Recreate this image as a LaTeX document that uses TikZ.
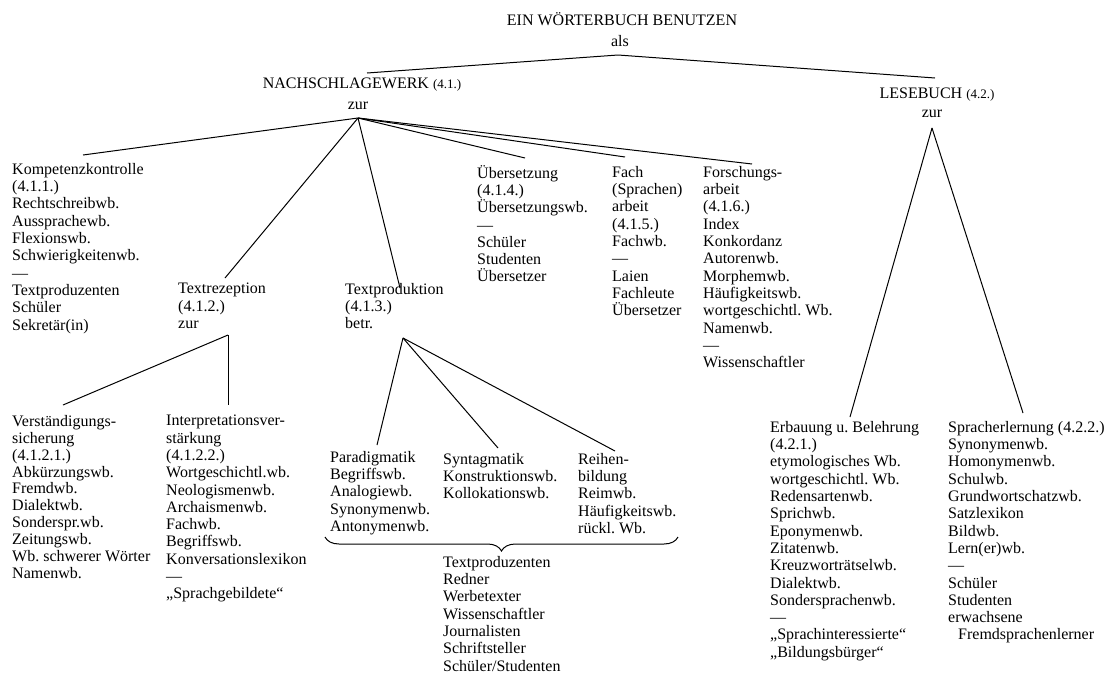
\documentclass[tikz,border=0pt]{standalone}
\usepackage{fontspec}
\setmainfont{Liberation Serif}
\usetikzlibrary{decorations.pathreplacing}
\frenchspacing

\newcommand{\numsmall}[1]{{\fontsize{13}{14}\selectfont #1}}

\begin{document}
\begin{tikzpicture}[x=1pt,y=-1pt,
    lst/.style={anchor=north west, align=left, inner sep=0pt, font=\fontsize{16}{17.3}\selectfont,
      execute at begin node=\strut},
    hdr/.style={anchor=base, inner sep=0pt, font=\fontsize{16}{17.3}\selectfont},
    edge/.style={line width=1pt}]
    \useasboundingbox (0,0) rectangle (1107,675);
    % headings
    \node[hdr] (title) at (622,25) {EIN WÖRTERBUCH BENUTZEN};
    \node[hdr] (als) at (620,46) {als};
    \node[hdr] (nachschlag) at (362,88) {NACHSCHLAGEWERK \numsmall{(4.1.)}};
    \node[hdr] (nachschlag-zur) at (358,109) {zur};
    \node[hdr] (lesebuch) at (937,98) {LESEBUCH \numsmall{(4.2.)}};
    \node[hdr] (lesebuch-zur) at (932,117) {zur};
    % Nachschlagewerk
    \node[lst] (komp) at (12,163) {Kompetenzkontrolle\\(4.1.1.)\\Rechtschreibwb.\\Aussprachewb.\\Flexionswb.\\Schwierigkeitenwb.\\---\\Textproduzenten\\Schüler\\Sekretär(in)};
    \node[lst] (rez) at (178,283) {Textrezeption\\(4.1.2.)\\zur};
    \node[lst] (prod) at (345,283) {Textproduktion\\(4.1.3.)\\betr.};
    \node[lst] (uebs) at (477,165) {Übersetzung\\(4.1.4.)\\Übersetzungswb.\\---\\Schüler\\Studenten\\Übersetzer};
    \node[lst] (fach) at (612,166) {Fach\\(Sprachen)\\arbeit\\(4.1.5.)\\Fachwb.\\---\\Laien\\Fachleute\\Übersetzer};
    \node[lst] (forsch) at (703,166) {Forschungs-\\arbeit\\(4.1.6.)\\Index\\Konkordanz\\Autorenwb.\\Morphemwb.\\Häufigkeitswb.\\wortgeschichtl. Wb.\\Namenwb.\\---\\Wissenschaftler};
    % Textrezeption
    \node[lst, font=\fontsize{16}{16.9}\selectfont] (vers) at (12,415) {Verständigungs-\\sicherung\\(4.1.2.1.)\\Abkürzungswb.\\Fremdwb.\\Dialektwb.\\Sonderspr.wb.\\Zeitungswb.\\Wb. schwerer Wörter\\Namenwb.};
    \node[lst] (interp) at (166,415) {Interpretationsver-\\stärkung\\(4.1.2.2.)\\Wortgeschichtl.wb.\\Neologismenwb.\\Archaismenwb.\\Fachwb.\\Begriffswb.\\Konversationslexikon\\---\\„Sprachgebildete“};
    % Textproduktion
    \node[lst] (para) at (330,451) {Paradigmatik\\Begriffswb.\\Analogiewb.\\Synonymenwb.\\Antonymenwb.};
    \node[lst] (synt) at (443,453) {Syntagmatik\\Konstruktionswb.\\Kollokationswb.};
    \node[lst] (reihe) at (578,453) {Reihen-\\bildung\\Reimwb.\\Häufigkeitswb.\\rückl. Wb.};
    \node[lst] (tprod) at (443,556) {Textproduzenten\\Redner\\Werbetexter\\Wissenschaftler\\Journalisten\\Schriftsteller\\Schüler/Studenten};
    % Lesebuch
    \node[lst] (erb) at (770,421) {Erbauung u. Belehrung\\(4.2.1.)\\etymologisches Wb.\\wortgeschichtl. Wb.\\Redensartenwb.\\Sprichwb.\\Eponymenwb.\\Zitatenwb.\\Kreuzworträtselwb.\\Dialektwb.\\Sondersprachenwb.\\---\\„Sprachinteressierte“\\„Bildungsbürger“};
    \node[lst] (spr) at (948,421) {Spracherlernung (4.2.2.)\\Synonymenwb.\\Homonymenwb.\\Schulwb.\\Grundwortschatzwb.\\Satzlexikon\\Bildwb.\\Lern(er)wb.\\---\\Schüler\\Studenten\\erwachsene\\\hspace*{10pt}Fremdsprachenlerner};
    % forks and line ends
    \coordinate (als-fork) at (618,55);
    \coordinate (nachschlag-top) at (367,73);
    \coordinate (lesebuch-top) at (935,78);
    \coordinate (nachschlag-fork) at (358,118);
    \coordinate (komp-top) at (83,155);
    \coordinate (rez-top) at (225,278);
    \coordinate (prod-top) at (400,288);
    \coordinate (uebs-top) at (525,158);
    \coordinate (fach-top) at (625,157);
    \coordinate (forsch-top) at (752,164);
    \coordinate (rez-fork) at (228,335);
    \coordinate (vers-top) at (63,405);
    \coordinate (interp-top) at (228,405);
    \coordinate (prod-fork) at (403,338);
    \coordinate (para-top) at (377,445);
    \coordinate (synt-top) at (498,448);
    \coordinate (reihe-top) at (615,451);
    \coordinate (lesebuch-fork) at (932,128);
    \coordinate (erb-top) at (850,417);
    \coordinate (spr-top) at (1023,413);
    \coordinate (brace-l) at (325,537);
    \coordinate (brace-r) at (678,537);
    % connectors
    \draw[edge] (nachschlag-top) -- (als-fork) -- (lesebuch-top);
    \foreach \n in {komp,rez,prod,uebs,fach,forsch}
      \draw[edge] (nachschlag-fork) -- (\n-top);
    \foreach \n in {vers,interp}
      \draw[edge] (rez-fork) -- (\n-top);
    \foreach \n in {para,synt,reihe}
      \draw[edge] (prod-fork) -- (\n-top);
    \foreach \n in {erb,spr}
      \draw[edge] (lesebuch-fork) -- (\n-top);
    \draw[edge, decorate, decoration={brace, mirror, amplitude=14pt}] (brace-l) -- (brace-r);
\end{tikzpicture}
\end{document}
